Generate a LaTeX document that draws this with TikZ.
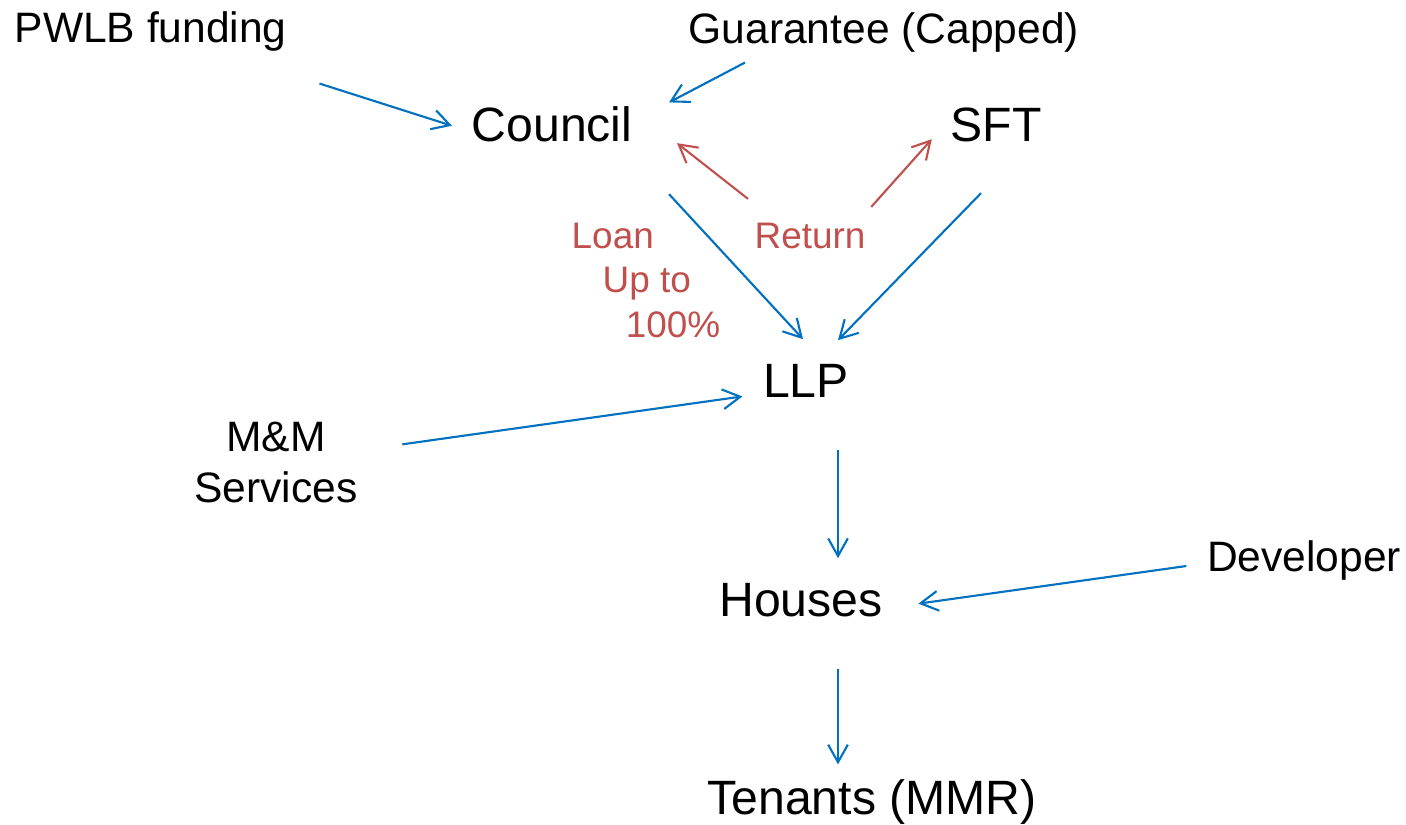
\documentclass[tikz,border=0pt]{standalone}
\usepackage{fontspec}
\setmainfont{Liberation Sans}
\usetikzlibrary{arrows.meta}
\definecolor{flowblue}{RGB}{0,112,192}
\definecolor{flowred}{RGB}{192,80,77}

\begin{document}
\begin{tikzpicture}[x=0.01cm, y=-0.01cm,
    big/.style={inner sep=0pt, anchor=base, font=\fontsize{13.7}{16}\selectfont},
    small/.style={inner sep=0pt, anchor=base, font=\fontsize{12.1}{14.3}\selectfont},
    note/.style={inner sep=0pt, anchor=base west, text=flowred, font=\fontsize{10.5}{12.66}\selectfont},
    flow/.style={draw=flowblue, line width=0.6pt, -{Straight Barb[length=5pt,width=5.6pt]}},
    back/.style={flow, draw=flowred}]
			      \useasboundingbox (0,0) rectangle (1406,824);

			      \node[small, anchor=base west] (pwlb) at (14,42) {PWLB funding};
			      \node[small, anchor=base west] (guar) at (688,43) {Guarantee (Capped)};
			      \node[big] (council) at (552,141) {Council};
			      \node[big] (sft) at (996,141) {SFT};
			      \node[note, align=left, anchor=north west] (loan) at (571,222) {Loan\\\hspace*{8.8pt}Up to\\\hspace*{15.4pt}100\%};
			      \node[note] (ret) at (754,248) {Return};
			      \node[big] (llp) at (806,397) {LLP};
			      \node[small, align=center] (mm) at (276,502) {M\&M\\Services};
			      \node[big] (houses) at (801,616) {Houses};
			      \node[small] (dev) at (1304,571) {Developer};
			      \node[big] (tenants) at (872,814) {Tenants (MMR)};

			      \draw[flow] ([shift={(32,32)}]pwlb.south east) -- ([shift={(-19,2)}]council.west);
			      \draw[flow] ([shift={(57,10)}]guar.south west) -- ([shift={(36,-3)}]council.north east);
			      \draw[flow] ([shift={(36,52)}]council.south east) -- ([shift={(-3,-24)}]llp.north);
			      \draw[flow] ([shift={(-15,51)}]sft.south) -- ([shift={(32,-23)}]llp.north);
			      \draw[back] ([shift={(-6,-23)}]ret.north west) -- ([shift={(44,1)}]council.south east);
			      \draw[back] ([shift={(5,-15)}]ret.north east) -- ([shift={(-18,-3)}]sft.south west);
			      \draw[flow] ([shift={(44,-18)}]mm.east) -- ([shift={(-20,16)}]llp.west);
			      \draw[flow] ([shift={(32,52)}]llp.south) -- ([shift={(37,-24)}]houses.north);
			      \draw[flow] ([shift={(-20,6)}]dev.west) -- ([shift={(35,4)}]houses.east);
			      \draw[flow] ([shift={(37,52)}]houses.south) -- ([shift={(-34,-14)}]tenants.north);
		      \end{tikzpicture}
\end{document}
